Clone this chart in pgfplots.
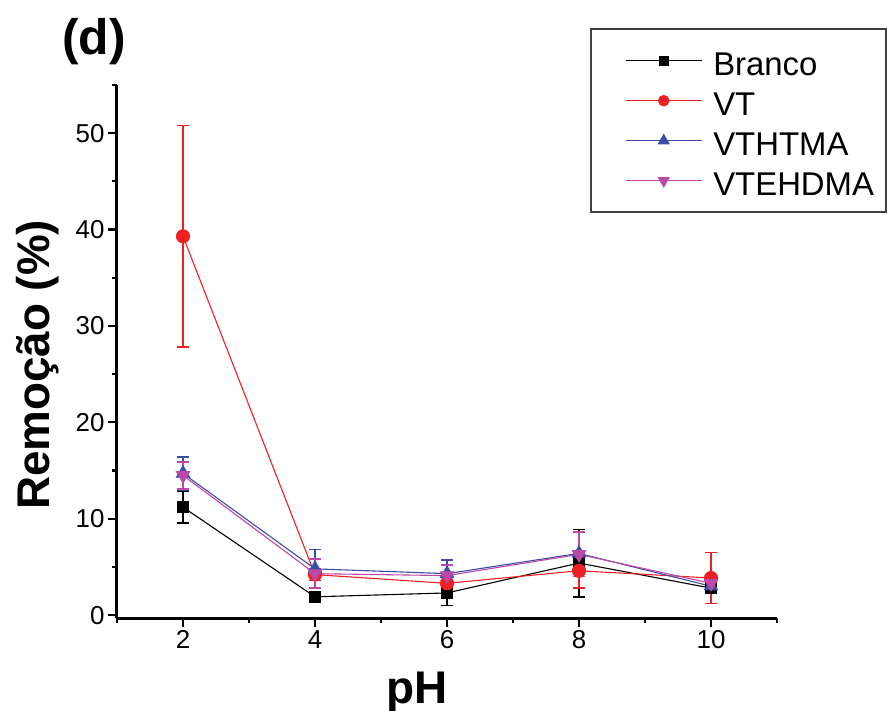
\documentclass[border=0pt]{standalone}
\usepackage{pgfplots}
\pgfplotsset{compat=1.18}
\usepackage{fontspec}
\setmainfont{Liberation Sans}
\definecolor{cB}{RGB}{0,0,0}
\definecolor{cR}{RGB}{238,32,36}
\definecolor{cBl}{RGB}{58,78,165}
\definecolor{cM}{RGB}{188,72,168}

\pgfplotstableread{
x y e
2 11.2 1.65
4 1.9 0.4
6 2.3 1.3
8 5.4 3.5
10 2.8 0.5
}\branco
\pgfplotstableread{
x y e
2 39.3 11.5
4 4.2 0.6
6 3.3 0.6
8 4.6 1.8
10 3.85 2.65
}\vt
\pgfplotstableread{
x y e
2 14.7 1.7
4 4.8 2.0
6 4.3 1.4
8 6.4 2.2
10 3.0 0.6
}\vthtma
\pgfplotstableread{
x y e
2 14.5 1.4
4 4.3 1.5
6 4.1 1.1
8 6.3 2.3
10 3.3 0.6
}\vtehdma

\begin{document}
\begin{tikzpicture}
\begin{axis}[
  at={(0,0)}, anchor=south west,
  scale only axis, width=660bp, height=533bp,
  xmin=1, xmax=11, ymin=-0.3, ymax=55,
  axis x line*=bottom, axis y line*=left,
  xtick={2,4,6,8,10}, minor xtick={1,3,5,7,9,11},
  ytick={0,10,20,30,40,50}, minor ytick={5,15,25,35,45,55},
  tick align=outside,
  major tick length=9bp, minor tick length=5bp,
  axis line style={line width=3bp, black},
  every tick/.style={line width=2.2bp, black},
  /pgf/number format/assume math mode=true,
  tick label style={font=\fontsize{26}{26}\selectfont},
  xlabel={\textbf{pH}},
  ylabel={\textbf{Remoção (\%)}},
  label style={font=\fontsize{46}{46}\selectfont},
  xlabel style={at={(axis description cs:0.4545,-0.1595)}, anchor=base},
  ylabel style={at={(axis description cs:-0.103,0.475)}, anchor=base},
  legend cell align=left,
  legend style={at={(axis description cs:0.7697,1.0769)}, anchor=north west,
    draw=none, fill=none, font=\fontsize{33}{33}\selectfont,
    inner xsep=0bp, inner ysep=0bp,
    nodes={inner sep=0pt, text height=31bp, text depth=2bp},
    row sep=7bp, column sep=11bp},
  legend image code/.code={
    \draw[mark repeat=2,mark phase=2,#1,every mark/.append style={scale=0.8}] plot coordinates {(0bp,0bp) (38bp,0bp) (76bp,0bp)};},
  every axis plot/.append style={line width=1.1bp},
  error bars/error bar style={line width=1.5bp},
  error bars/error mark options={rotate=90, mark size=6bp, line width=1.5bp},
]
\addplot[cB, mark=square*, mark size=5.5bp, mark options={solid,fill=cB},
  error bars/.cd, y dir=both, y explicit] table[x=x, y=y, y error=e] {\branco};
\addlegendentry{Branco}
\addplot[cR, mark=*, mark size=6.5bp, mark options={solid,fill=cR},
  error bars/.cd, y dir=both, y explicit] table[x=x, y=y, y error=e] {\vt};
\addlegendentry{VT}
\addplot[cBl, mark=triangle*, mark size=7.5bp, mark options={solid,fill=cBl},
  error bars/.cd, y dir=both, y explicit] table[x=x, y=y, y error=e] {\vthtma};
\addlegendentry{VTHTMA}
\addplot[cM, mark=triangle*, mark size=7.5bp, mark options={solid,fill=cM,rotate=180},
  error bars/.cd, y dir=both, y explicit] table[x=x, y=y, y error=e] {\vtehdma};
\addlegendentry{VTEHDMA}
\end{axis}
\draw[black!75, line width=1.5bp] (474bp,406bp) rectangle (769bp,589bp);
\node[anchor=base west, font=\fontsize{50}{50}\selectfont\bfseries, inner sep=0pt]
  at (-55bp,563bp) {(d)};
\pgfresetboundingbox
\path (-117bp,-93bp) rectangle (771bp,618bp);
\end{tikzpicture}
\end{document}
